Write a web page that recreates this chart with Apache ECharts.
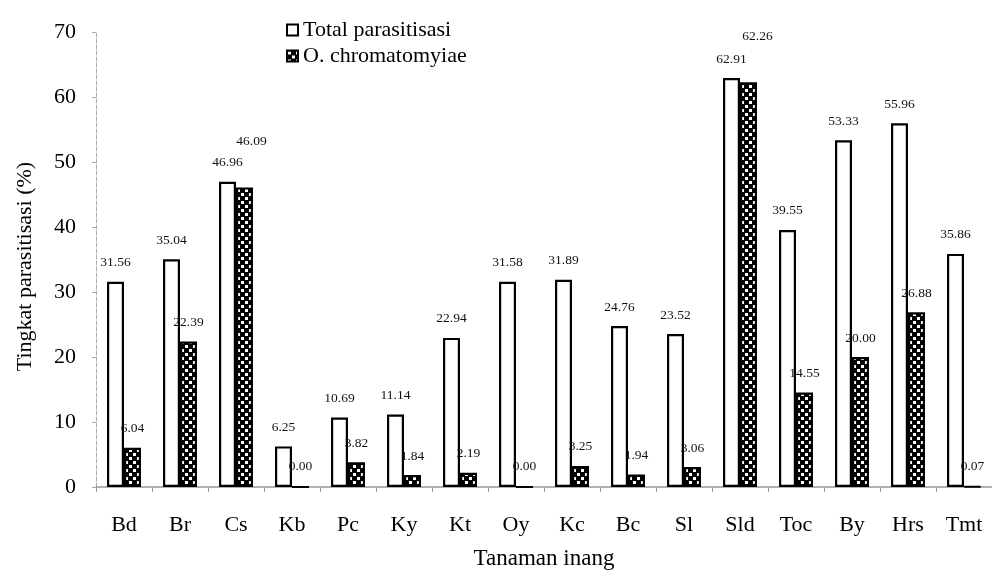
<!DOCTYPE html>
<html>
<head>
<meta charset="utf-8">
<script src="https://cdn.jsdelivr.net/npm/echarts@6/dist/echarts.min.js"></script>
<style>html,body{margin:0;padding:0;background:#fff;}#c{width:992px;height:578px;}</style>
</head>
<body>
<div id="c"></div>
<script>
const categories = ['Bd','Br','Cs','Kb','Pc','Ky','Kt','Oy','Kc','Bc','Sl','Sld','Toc','By','Hrs','Tmt'];
const totalParasitisasi = [31.56,35.04,46.96,6.25,10.69,11.14,22.94,31.58,31.89,24.76,23.52,62.91,39.55,53.33,55.96,35.86];
const oChromatomyiae = [6.04,22.39,46.09,0.00,3.82,1.84,2.19,0.00,3.25,1.94,3.06,62.26,14.55,20.00,26.88,0.07];
const seriesNames = ['Total parasitisasi','O. chromatomyiae'];
const yTicks = [0,10,20,30,40,50,60,70];

// label offsets for overlapping labels (style only)
const raisedLabelOffsets = {2:[7,-27], 11:[9,-27]};

const FONT = '"Liberation Serif","Times New Roman",serif';

const pc = document.createElement('canvas');
pc.width = 8; pc.height = 8;
const pctx = pc.getContext('2d');
pctx.fillStyle = '#000'; pctx.fillRect(0,0,8,8);
pctx.fillStyle = '#fff';
pctx.fillRect(1,1,3,3);
pctx.fillRect(5,5,3,3);
const checker = {image: pc, repeat: 'repeat'};

const chart = echarts.init(document.getElementById('c'), null, {renderer:'canvas'});

const labelBase = {
  show: true, position: 'top', distance: 12,
  fontFamily: FONT, fontSize: 13.5, color: '#111',
  formatter: p => Number(p.value).toFixed(2)
};

chart.setOption({
  animation: false,
  backgroundColor: '#fff',
  legend: {
    orient: 'vertical', left: 281, top: 14,
    icon: 'rect',
    itemWidth: 11, itemHeight: 11, itemGap: 4,
    textStyle: {fontFamily: FONT, fontSize: 22, color: '#000'},
    data: seriesNames
  },
  grid: {left: 96, top: 32, bottom: 91, width: 898, containLabel: false},
  xAxis: {
    type: 'category', data: categories,
    name: 'Tanaman inang', nameLocation: 'middle', nameGap: 60,
    nameTextStyle: {fontFamily: FONT, fontSize: 23, color: '#000'},
    axisLine: {lineStyle: {color: '#999', width: 1.5}},
    axisTick: {show: true, length: 5, lineStyle: {color: '#999'}},
    axisLabel: {fontFamily: FONT, fontSize: 22, color: '#000', margin: 27}
  },
  yAxis: {
    type: 'value', min: 0, max: 70, interval: 10,
    name: 'Tingkat parasitisasi (%)', nameLocation: 'middle', nameGap: 60,
    nameRotate: 90,
    nameTextStyle: {fontFamily: FONT, fontSize: 22, color: '#000', padding: [0,0,0,-14]},
    axisLine: {show: true, lineStyle: {color: '#aaa', width: 1, type: 'dashed'}},
    axisTick: {show: true, length: 4, lineStyle: {color: '#aaa'}},
    splitLine: {show: false},
    axisLabel: {fontFamily: FONT, fontSize: 22, color: '#000', margin: 20,
      formatter: v => yTicks.includes(v) ? String(v) : ''}
  },
  series: [
    {
      name: seriesNames[0], type: 'bar', barWidth: 17, barGap: '0%',
      itemStyle: {color: '#fff', borderColor: '#000', borderWidth: 2.2},
      label: labelBase,
      data: totalParasitisasi
    },
    {
      name: seriesNames[1], type: 'bar', barWidth: 17, barGap: '0%',
      itemStyle: {color: checker, borderColor: '#000', borderWidth: 2.2},
      label: labelBase,
      data: oChromatomyiae.map((v,i) => raisedLabelOffsets[i]
        ? {value: v, label: {offset: raisedLabelOffsets[i]}} : v)
    }
  ]
});
</script>
</body>
</html>
